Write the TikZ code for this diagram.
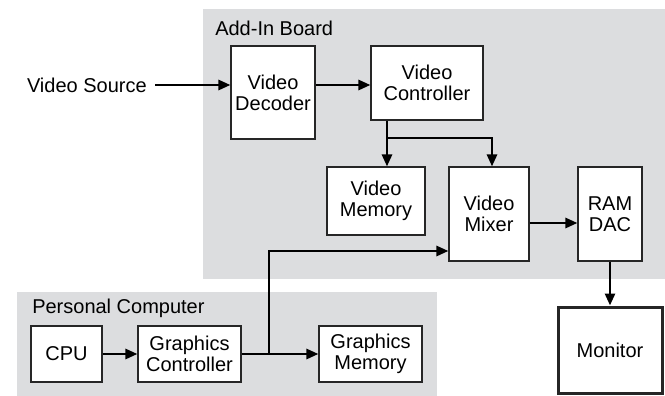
\documentclass[tikz,border=0pt]{standalone}
\usepackage{fontspec}
\setmainfont{Liberation Sans}
\usepackage{xcolor}
\usepackage{tikz}
\usetikzlibrary{arrows.meta, calc}

\definecolor{boardgray}{RGB}{220,221,223}

\begin{document}
\begin{tikzpicture}[x=0.75pt, y=-0.75pt,
  every node/.style={font=\fontsize{15pt}{15.6pt}\selectfont, inner sep=0pt},
  area/.style={fill=boardgray},
  blk/.style={draw=black!85, line width=0.8pt, fill=white, align=center},
  link/.style={line width=2pt, -{Triangle[length=9pt, width=7.5pt]}}]
\useasboundingbox (0,0) rectangle (665,396);

% the two boards
\fill[area] (203,9) rectangle (665,279);
\fill[area] (17,292) rectangle (437,396);
\node[anchor=base west] (addin) at (215,36) {Add-In Board};
\node[anchor=base west] (pc) at (32,313) {Personal Computer};

% add-in board
\node[anchor=east] (src) at (147,85) {Video Source};
\node[blk, minimum width=63pt, minimum height=69.75pt] (dec) at (273,92.5) {Video\\Decoder};
\node[blk, minimum width=84pt, minimum height=55.5pt] (ctl) at (427,83) {Video\\Controller};
\node[blk, minimum width=73.5pt, minimum height=51pt] (mem) at (376,201) {Video\\Memory};
\node[blk, minimum width=60pt, minimum height=70.5pt] (mix) at (489,214) {Video\\Mixer};
\node[blk, minimum width=48pt, minimum height=70.5pt] (dac) at (610,214) {RAM\\DAC};
\node[blk, line width=2.25pt, minimum width=78pt, minimum height=64.5pt] (mon) at (610,350) {Monitor};

% personal computer
\node[blk, minimum width=53.25pt, minimum height=42pt] (cpu) at (66.5,354) {CPU};
\node[blk, minimum width=77.25pt, minimum height=42pt] (gc) at (189.5,354) {Graphics\\Controller};
\node[blk, minimum width=77.25pt, minimum height=42pt] (gm) at (370.5,354) {Graphics\\Memory};

\coordinate (vbus) at (387,138);
\coordinate (gbus) at (269,354);

\draw[link] ($(src.east)+(8,0)$) -- (src.east -| dec.west);
\draw[link] (src.east -| dec.east) -- (src.east -| ctl.west);
\draw[link] (vbus |- ctl.south) -- (vbus |- mem.north);
\draw[link] (vbus) -| ($(mix.north)+(3,0)$);
\draw[link] ($(mix.east)+(0,9)$) -- ($(mix.east -| dac.west)+(0,9)$);
\draw[link] (dac.south) -- (mon.north);
\draw[link] (cpu) -- (gc);
\draw[link] (gc) -- (gm);
\draw[link] (gbus) |- ($(mix.west)+(0,37)$);
\end{tikzpicture}
\end{document}
